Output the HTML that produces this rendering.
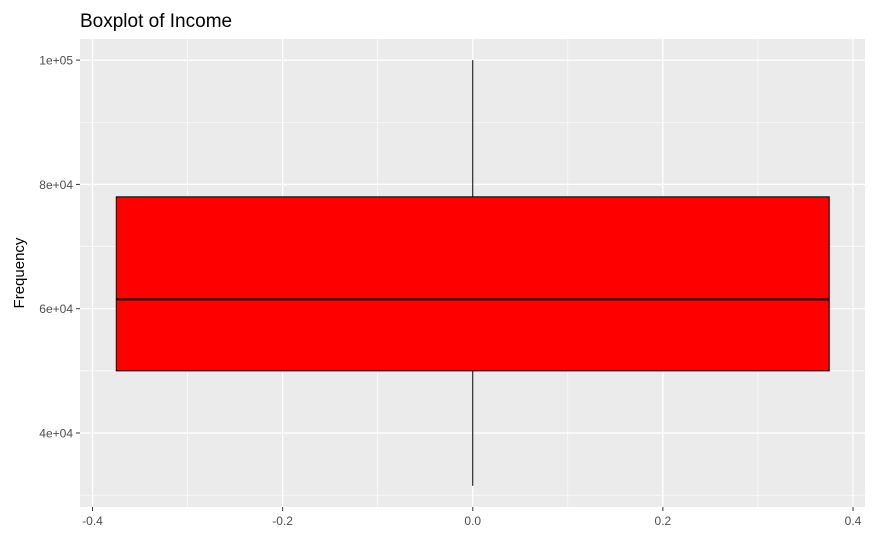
<!DOCTYPE html>
<html><head><meta charset="utf-8"><style>
body{margin:0;background:#fff;}
svg{display:block;font-family:"Liberation Sans",Arial,sans-serif;}
</style></head><body>
<svg id="chart" width="875" height="540">
<text x="80" y="27" font-size="19" fill="#000">Boxplot of Income</text>
<rect x="80" y="39" width="785" height="468" fill="#ebebeb"/>
<g id="grid"></g>
<g id="marks"></g>
<g id="axes"></g>
<text transform="translate(24,273) rotate(-90)" text-anchor="middle" font-size="15" fill="#000">Frequency</text>
</svg>
<script>
const xTicks=[-0.4,-0.2,0.0,0.2,0.4];
const xTickLabels=["-0.4","-0.2","0.0","0.2","0.4"];
const yTicks=[40000,60000,80000,100000];
const yTickLabels=["4e+04","6e+04","8e+04","1e+05"];
const stats=[31500,50000,61500,78000,100000]; // min,q1,median,q3,max
const boxHalfWidth=0.375;
const NS="http://www.w3.org/2000/svg";
function sx(v){return 472.75+v*950.6;}
function sy(v){return 433-(v-40000)*124.3/20000;}
function mk(tag,attrs,parent){const e=document.createElementNS(NS,tag);for(const k in attrs)e.setAttribute(k,attrs[k]);parent.appendChild(e);return e;}
const grid=document.getElementById('grid'),marks=document.getElementById('marks'),axes=document.getElementById('axes');
// minor grid
for(let i=0;i<xTicks.length-1;i++){const v=(xTicks[i]+xTicks[i+1])/2;const l=mk('line',{x1:sx(v),x2:sx(v),y1:39,y2:507,stroke:'#fff','stroke-width':0.6},grid);

}
for(let v=30000;v<=90000;v+=20000){const l=mk('line',{x1:80,x2:865,y1:sy(v),y2:sy(v),stroke:'#fff','stroke-width':0.6},grid);

}
xTicks.forEach((v,i)=>{const l=mk('line',{x1:sx(v),x2:sx(v),y1:39,y2:507,stroke:'#fff','stroke-width':1.2},grid);


const t=mk('line',{x1:sx(v),x2:sx(v),y1:507,y2:511,stroke:'#333','stroke-width':1},axes);


const tx=mk('text',{x:sx(v),y:525,'text-anchor':'middle','font-size':12,fill:'#4d4d4d'},axes);tx.textContent=xTickLabels[i];

});
yTicks.forEach((v,i)=>{const l=mk('line',{x1:80,x2:865,y1:sy(v),y2:sy(v),stroke:'#fff','stroke-width':1.2},grid);


const t=mk('line',{x1:76,x2:80,y1:sy(v),y2:sy(v),stroke:'#333','stroke-width':1},axes);


const tx=mk('text',{x:73,y:sy(v)+4.5,'text-anchor':'end','font-size':12,fill:'#4d4d4d'},axes);tx.textContent=yTickLabels[i];

});
const w1=mk('line',{x1:sx(0),x2:sx(0),y1:sy(stats[3]),y2:sy(stats[4]),stroke:'#000','stroke-width':1},marks);


const w2=mk('line',{x1:sx(0),x2:sx(0),y1:sy(stats[0]),y2:sy(stats[1]),stroke:'#000','stroke-width':1},marks);


const box=mk('rect',{x:sx(-boxHalfWidth),y:sy(stats[3]),width:sx(boxHalfWidth)-sx(-boxHalfWidth),height:sy(stats[1])-sy(stats[3]),fill:'#ff0000',stroke:'#000','stroke-width':1},marks);


const med=mk('line',{x1:sx(-boxHalfWidth),x2:sx(boxHalfWidth),y1:sy(stats[2]),y2:sy(stats[2]),stroke:'#000','stroke-width':2},marks);


</script>
</body></html>
